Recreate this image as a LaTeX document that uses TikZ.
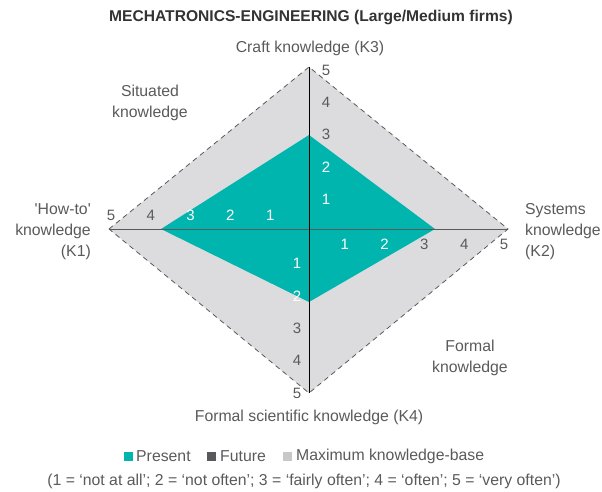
\documentclass[tikz,border=0pt]{standalone}
\usepackage{fontspec}
\setmainfont{Liberation Sans}
\definecolor{present}{HTML}{00B5AD}
\definecolor{maxbase}{HTML}{DCDCDE}
\definecolor{future}{HTML}{58595B}
\definecolor{legmax}{HTML}{C8C8CA}
\definecolor{txt}{HTML}{5A5A5C}
\begin{document}
\begin{tikzpicture}[x=1pt,y=-1pt]
      \tikzstyle{every node}+=[inner sep=0pt, text=txt, font=\fontsize{15.8}{21}\selectfont]
      \tikzstyle{tick}=[font=\fontsize{15}{15}\selectfont]
      \tikzstyle{legsq}=[minimum size=9pt]
      \useasboundingbox (0,0) rectangle (602,492);
      % axes ends
      \coordinate (O) at (309,229);
      \coordinate (K1) at (109,229);
      \coordinate (K2) at (508,229);
      \coordinate (K3) at (309,67);
      \coordinate (K4) at (309,393);
      \fill [maxbase] (K1) -- (K3) -- (K2) -- (K4) -- cycle;
      \draw [dashed, future, line width=0.8pt, dash pattern=on 5pt off 4pt] (K1) -- (K3) -- (K2) -- (K4) -- cycle;
      % present profile
      \fill [present] (161,229) -- (309,135) -- (435,229) -- (309,302) -- cycle;
      \draw [future, line width=1pt] (K1) -- (K2);
      \draw [black, line width=0.8pt] (K3) -- (K4);
      % scale values
      \foreach \k/\c in {1/white,2/white,3/white,4/txt,5/txt}
        \node [tick, text=\c] (l\k) at (310-39.8*\k,215) {\k};
      \foreach \k/\c in {1/white,2/white,3/txt,4/txt,5/txt}
        \node [tick, text=\c] (r\k) at (305+39.8*\k,244) {\k};
      \foreach \k/\c in {1/white,2/white,3/txt,4/txt,5/txt}
        \node [tick, text=\c] (t\k) at (326,232-32.4*\k) {\k};
      \foreach \k/\c in {1/white,2/white,3/txt,4/txt,5/txt}
        \node [tick, text=\c] (b\k) at (297,231+32.4*\k) {\k};
      % labels
      \node [font=\fontsize{15.6}{18}\bfseries, text=black!80] (title) at (311,18) {MECHATRONICS-ENGINEERING (Large/Medium firms)};
      \node (k3) at (310,48) {Craft knowledge (K3)};
      \node (k4) at (309,417) {Formal scientific knowledge (K4)};
      \node [align=right, anchor=east] (k1) at (91,232) {\textquotesingle How-to\textquotesingle\\knowledge\\(K1)};
      \node [align=left, anchor=west] (k2) at (525,232) {Systems\\knowledge\\(K2)};
      \node [align=center] (situated) at (150,103) {Situated\\knowledge};
      \node [align=center] (formal) at (470,358) {Formal\\knowledge};
      % legend
      \node [legsq, fill=present] (sqPresent) at (128,456) {};
      \node [anchor=west] (legPresent) at (136,456) {Present};
      \node [legsq, fill=future] (sqFuture) at (211,456) {};
      \node [anchor=west] (legFuture) at (220,456) {Future};
      \node [legsq, fill=legmax] (sqMax) at (287,456) {};
      \node [anchor=west] (legMax) at (296,456) {Maximum knowledge-base};
      \node (scale) at (304,481) {(1 = `not at all'; 2 = `not often'; 3 = `fairly often'; 4 = `often'; 5 = `very often')};
    \end{tikzpicture}
\end{document}
